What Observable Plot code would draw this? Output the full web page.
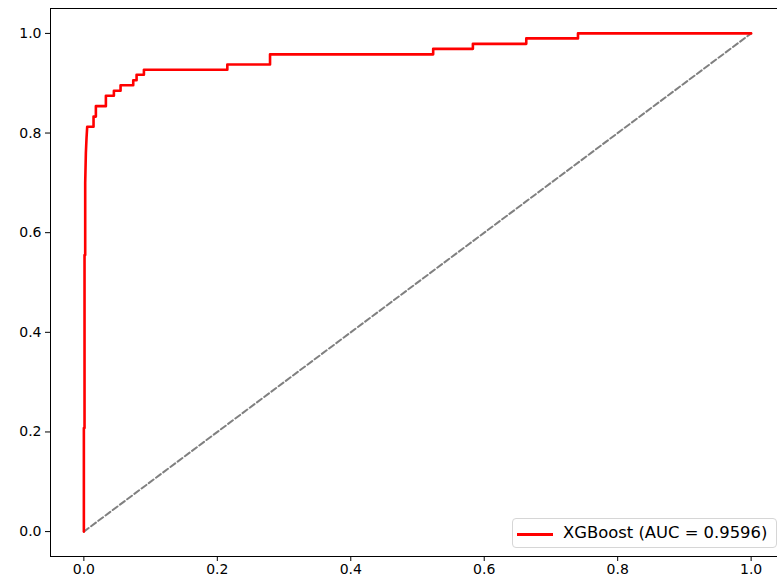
<!DOCTYPE html>
<html>
<head>
<meta charset="utf-8">
<script src="https://cdn.jsdelivr.net/npm/d3@7"></script>
<script src="https://cdn.jsdelivr.net/npm/@observablehq/plot@0.6"></script>
<style>
  html, body { margin: 0; padding: 0; background: #fff; }
  #chart { position: relative; width: 777px; height: 584px; overflow: hidden; }
  #legend {
    position: absolute; left: 512px; top: 518px; width: 265px; height: 30px;
    box-sizing: border-box; border: 1px solid #d6d6d6; border-radius: 4px;
    background: rgba(255,255,255,0.8);
    font-family: "DejaVu Sans", sans-serif; font-size: 16.4px; color: #000;
  }
  #legend .swatch { position: absolute; left: 4px; top: 14px; width: 36px; height: 2.5px; background: red; }
  #legend .label { position: absolute; left: 50px; top: 4px; white-space: nowrap; line-height: 20px; }
</style>
</head>
<body>
<div id="chart"></div>
<script>
const fpr = [0, 0, 0.001, 0.001, 0.002, 0.002, 0.003, 0.004, 0.005, 0.0145, 0.0145, 0.018, 0.018, 0.033, 0.033, 0.045, 0.045, 0.055, 0.055, 0.074, 0.074, 0.079, 0.079, 0.090, 0.090, 0.215, 0.215, 0.279, 0.279, 0.5235, 0.5235, 0.583, 0.583, 0.663, 0.663, 0.7405, 0.7405, 1.0];
const tpr = [0, 0.208, 0.208, 0.555, 0.555, 0.70, 0.76, 0.79, 0.8125, 0.8125, 0.833, 0.833, 0.854, 0.854, 0.875, 0.875, 0.885, 0.885, 0.896, 0.896, 0.906, 0.906, 0.917, 0.917, 0.927, 0.927, 0.9375, 0.9375, 0.958, 0.958, 0.969, 0.969, 0.979, 0.979, 0.990, 0.990, 1.0, 1.0];
const diagX = [0, 1];
const diagY = [0, 1];
const tickValues = [0, 0.2, 0.4, 0.6, 0.8, 1.0];
const legendLabel = "XGBoost (AUC = 0.9596)";

const roc = fpr.map((f, i) => ({fpr: f, tpr: tpr[i]}));
const diag = diagX.map((d, i) => ({x: d, y: diagY[i]}));

const plot = Plot.plot({
  width: 777,
  height: 584,
  marginLeft: 50,
  marginRight: -7,
  marginTop: 8,
  marginBottom: 28,
  style: {fontFamily: "DejaVu Sans, sans-serif", fontSize: "14px", color: "#000", background: "#fff", overflow: "hidden"},
  x: {domain: [-0.05, 1.05], label: null},
  y: {domain: [-0.05, 1.05], label: null},
  marks: [
    Plot.line(diag, {x: "x", y: "y", stroke: "#808080", strokeWidth: 2, strokeDasharray: "6,3"}),
    Plot.line(roc, {x: "fpr", y: "tpr", stroke: "red", strokeWidth: 2.6}),
    Plot.frame({stroke: "#000", strokeWidth: 1}),
    Plot.axisX({ticks: tickValues, tickFormat: d3.format(".1f"), tickSize: 5, tickPadding: 3, fontSize: 14}),
    Plot.axisY({ticks: tickValues, tickFormat: d3.format(".1f"), tickSize: 5, tickPadding: 4, fontSize: 14})
  ]
});
const chart = document.getElementById("chart");
chart.appendChild(plot);
const lg = document.createElement("div");
lg.id = "legend";
lg.innerHTML = '<div class="swatch"></div><div class="label"></div>';
lg.querySelector(".label").textContent = legendLabel;
chart.appendChild(lg);
</script>
</body>
</html>
